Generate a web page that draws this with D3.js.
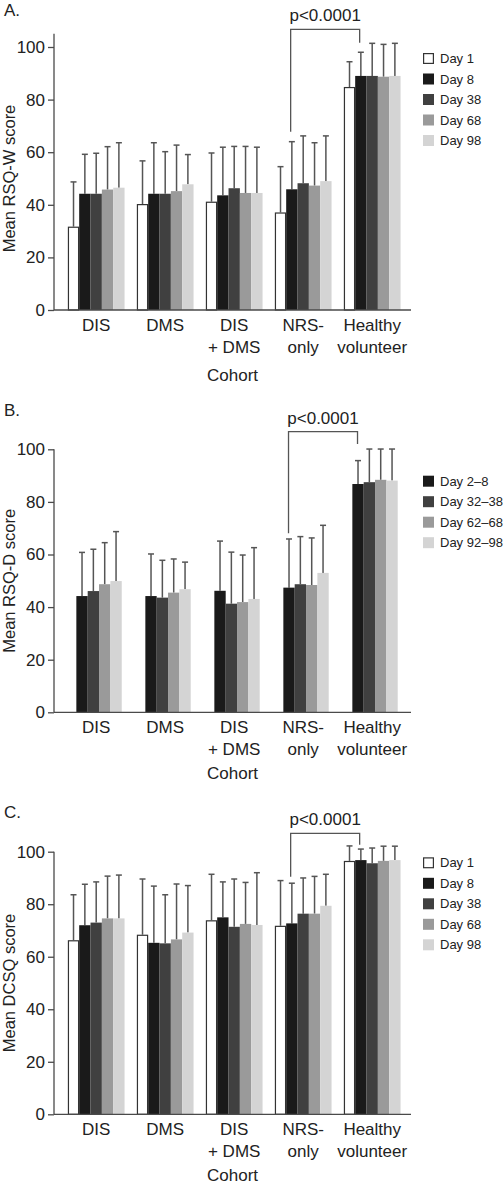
<!DOCTYPE html>
<html>
<head>
<meta charset="utf-8">
<script src="https://cdn.jsdelivr.net/npm/d3@7"></script>
<style>
  html, body { margin: 0; padding: 0; background: #fff; }
  svg { display: block; font-family: "Liberation Sans", Arial, Helvetica, sans-serif; }
</style>
</head>
<body>
<script>
// ---------------- DATA ----------------
const cohorts = ["DIS", "DMS", "DIS + DMS", "NRS-only", "Healthy volunteer"];
const cohortLines = [["DIS"], ["DMS"], ["DIS", "+ DMS"], ["NRS-", "only"], ["Healthy", "volunteer"]];

const daysAC = ["Day 1", "Day 8", "Day 38", "Day 68", "Day 98"];
const daysB = ["Day 2\u20138", "Day 32\u201338", "Day 62\u201368", "Day 92\u201398"];

const yTicks = [0, 20, 40, 60, 80, 100];

// Panel A: Mean RSQ-W score (mean, upper error = mean + SD)
const rsqW_mean = [
  [31.7, 40.3, 41.2, 37.1, 84.8],   // Day 1
  [44.2, 44.2, 43.6, 45.9, 89.0],   // Day 8
  [44.2, 44.2, 46.3, 48.2, 89.0],   // Day 38
  [45.8, 45.2, 44.5, 47.3, 88.7],   // Day 68
  [46.5, 47.8, 44.5, 49.0, 89.0]    // Day 98
];
const rsqW_upper = [
  [48.7, 56.7, 59.7, 54.5, 94.4],
  [59.2, 63.6, 61.9, 64.0, 98.0],
  [59.6, 60.2, 62.2, 66.2, 101.4],
  [62.1, 62.7, 62.2, 63.6, 101.0],
  [63.6, 59.1, 61.9, 66.2, 101.4]
];

// Panel B: Mean RSQ-D score
const rsqD_mean = [
  [44.2, 44.2, 46.2, 47.4, 86.8],   // Day 2-8
  [46.1, 43.6, 41.3, 48.7, 87.5],   // Day 32-38
  [48.7, 45.5, 41.9, 48.4, 88.4],   // Day 62-68
  [49.9, 46.8, 43.1, 53.0, 88.1]    // Day 92-98
];
const rsqD_upper = [
  [60.8, 60.2, 65.1, 65.9, 95.7],
  [62.0, 57.8, 60.9, 66.8, 100.1],
  [64.5, 58.3, 59.8, 66.3, 100.1],
  [68.7, 57.1, 62.6, 71.1, 100.1]
];

// Panel C: Mean DCSQ score
const dcsq_mean = [
  [66.3, 68.4, 73.9, 71.8, 96.5],
  [72.0, 65.3, 75.0, 72.7, 96.8],
  [73.0, 65.1, 71.4, 76.4, 95.6],
  [74.6, 66.6, 72.5, 76.4, 96.5],
  [74.6, 69.2, 72.1, 79.4, 96.8]
];
const dcsq_upper = [
  [83.6, 89.6, 91.4, 89.0, 102.2],
  [87.6, 86.9, 88.5, 88.0, 101.0],
  [88.5, 83.6, 89.6, 90.0, 101.4],
  [90.7, 87.7, 88.3, 90.6, 102.1],
  [91.1, 87.1, 92.0, 91.4, 102.1]
];

// significance bracket: [top, left leg end, right leg end] in score units
const pLabel = "p<0.0001";
const bracketA = [106.7, 67.8, 101.6];
const bracketB = [106.7, 68.1, 102.0];
const bracketC = [107.0, 90.5, 102.6];

// ---------------- STYLE ----------------
const colorsAC = ["#ffffff", "#1a1a1a", "#404040", "#9a9a9a", "#d4d4d4"];
const colorsB = ["#1a1a1a", "#404040", "#9a9a9a", "#d4d4d4"];
const axisColor = "#4a4a4a";
const errColor = "#555555";
const textColor = "#222222";

const W = 503, H = 1189;
const svg = d3.select("body").append("svg").attr("width", W).attr("height", H);

const x0 = d3.scaleBand().domain(cohorts).range([54, 411])
  .paddingInner(0.178).paddingOuter(0.176).align(0.57);

function drawPanel(cfg) {
  const g = svg.append("g");
  const y = d3.scaleLinear().domain([0, 100]).range([cfg.yZero, cfg.yHundred]);
  const bw = x0.bandwidth();
  const x1 = d3.scaleBand().domain(cfg.series)
    .range([bw * cfg.inner[0], bw * cfg.inner[1]]).padding(0);

  // panel letter
  g.append("text").attr("x", 4).attr("y", cfg.letterY)
    .attr("font-size", 17).attr("fill", textColor).text(cfg.letter);

  // bars
  cfg.series.forEach((s, si) => {
    const sg = g.append("g");
    cohorts.forEach((c, ci) => {
      const m = cfg.mean[si][ci];
      const up = cfg.upper[si][ci];
      const bx = x0(c) + x1(s);
      const cx = bx + x1.bandwidth() / 2;
      // error bar
      sg.append("line").attr("x1", cx).attr("x2", cx)
        .attr("y1", y(m)).attr("y2", y(up))
        .attr("stroke", errColor).attr("stroke-width", 1.5);
      sg.append("line").attr("x1", cx - 3).attr("x2", cx + 3)
        .attr("y1", y(up)).attr("y2", y(up))
        .attr("stroke", errColor).attr("stroke-width", 1.5);
      const isWhite = cfg.colors[si] === "#ffffff";
      sg.append("rect")
        .attr("x", isWhite ? bx + 0.6 : bx)
        .attr("y", y(m) + (isWhite ? 0.6 : 0))
        .attr("width", isWhite ? x1.bandwidth() - 1.2 : x1.bandwidth())
        .attr("height", y(0) - y(m) - (isWhite ? 0.6 : 0))
        .attr("fill", cfg.colors[si])
        .attr("stroke", isWhite ? "#333" : "none")
        .attr("stroke-width", isWhite ? 1.2 : 0);
    });
  });

  // y axis
  const yAxis = d3.axisLeft(y).tickValues(yTicks).tickSize(6).tickPadding(3).tickSizeOuter(0);
  const ya = g.append("g").attr("transform", `translate(54,0)`).call(yAxis);
  ya.select(".domain").remove();
  ya.selectAll(".tick line").attr("stroke", axisColor).attr("stroke-width", 1.3);
  ya.selectAll(".tick text").attr("font-size", 17).attr("fill", textColor)
    .attr("font-family", "Liberation Sans, Arial, Helvetica, sans-serif");
  g.append("line").attr("x1", 54).attr("x2", 54)
    .attr("y1", y(0)).attr("y2", y(cfg.axisTop))
    .attr("stroke", axisColor).attr("stroke-width", 1.3);

  // x axis line
  g.append("line").attr("x1", 54).attr("x2", 411)
    .attr("y1", y(0)).attr("y2", y(0))
    .attr("stroke", axisColor).attr("stroke-width", 1.3);

  // x labels
  cohorts.forEach((c, ci) => {
    const cx = x0(c) + bw / 2;
    cohortLines[ci].forEach((ln, li) => {
      g.append("text").attr("x", cx).attr("y", y(0) + 21 + li * 22)
        .attr("text-anchor", "middle").attr("font-size", 17).attr("fill", textColor)
        .text(ln);
    });
  });

  // axis titles
  g.append("text").attr("x", (54 + 411) / 2).attr("y", y(0) + cfg.cohortOffset)
    .attr("text-anchor", "middle").attr("font-size", 17).attr("fill", textColor).text("Cohort");
  g.append("text")
    .attr("transform", `translate(15,${(y(0) + y(100)) / 2}) rotate(-90)`)
    .attr("text-anchor", "middle").attr("font-size", 16.5).attr("fill", textColor)
    .text(cfg.yTitle);

  // bracket
  const sLeft = cfg.series[cfg.bracketSeries];
  const lx = x0(cohorts[3]) + x1(sLeft) + x1.bandwidth() / 2 - cfg.bracketShift;
  const rx = x0(cohorts[4]) + x1(sLeft) + x1.bandwidth() / 2 - cfg.bracketShift;
  const b = cfg.bracket;
  g.append("path")
    .attr("d", `M${lx},${y(b[1])}V${y(b[0])}H${rx}V${y(b[2])}`)
    .attr("fill", "none").attr("stroke", errColor).attr("stroke-width", 1.3);
  g.append("text").attr("x", (lx + rx) / 2).attr("y", y(b[0]) - 8)
    .attr("text-anchor", "middle").attr("font-size", 17).attr("fill", textColor).text(pLabel);

  // legend
  const lg = g.append("g");
  cfg.series.forEach((s, si) => {
    const cy = y(100) + cfg.legendOffset + si * 20.5;
    const isWhite = cfg.colors[si] === "#ffffff";
    lg.append("rect").attr("x", isWhite ? 423.6 : 423).attr("y", cy - 5 + (isWhite ? 0.6 : 0))
      .attr("width", isWhite ? 9.8 : 11).attr("height", isWhite ? 9.8 : 11)
      .attr("fill", cfg.colors[si])
      .attr("stroke", isWhite ? "#333" : "none").attr("stroke-width", 1.2);
    lg.append("text").attr("x", 440).attr("y", cy + 5)
      .attr("font-size", 13).attr("fill", textColor).text(s);
  });
}

drawPanel({
  letter: "A.", letterY: 16,
  yZero: 310, yHundred: 47, axisTop: 105,
  series: daysAC, colors: colorsAC, mean: rsqW_mean, upper: rsqW_upper,
  inner: [0, 1], yTitle: "Mean RSQ-W score", cohortOffset: 71,
  bracket: bracketA, bracketSeries: 1, bracketShift: 1.2, legendOffset: 11
});
drawPanel({
  letter: "B.", letterY: 416,
  yZero: 712.3, yHundred: 449.3, axisTop: 100,
  series: daysB, colors: colorsB, mean: rsqD_mean, upper: rsqD_upper,
  inner: [0.15, 0.95], yTitle: "Mean RSQ-D score", cohortOffset: 67,
  bracket: bracketB, bracketSeries: 0, bracketShift: 0.5, legendOffset: 31.4
});
drawPanel({
  letter: "C.", letterY: 818,
  yZero: 1114.3, yHundred: 851.7, axisTop: 100,
  series: daysAC, colors: colorsAC, mean: dcsq_mean, upper: dcsq_upper,
  inner: [0, 1], yTitle: "Mean DCSQ score", cohortOffset: 67,
  bracket: bracketC, bracketSeries: 1, bracketShift: 1.2, legendOffset: 10.6
});
</script>
</body>
</html>
